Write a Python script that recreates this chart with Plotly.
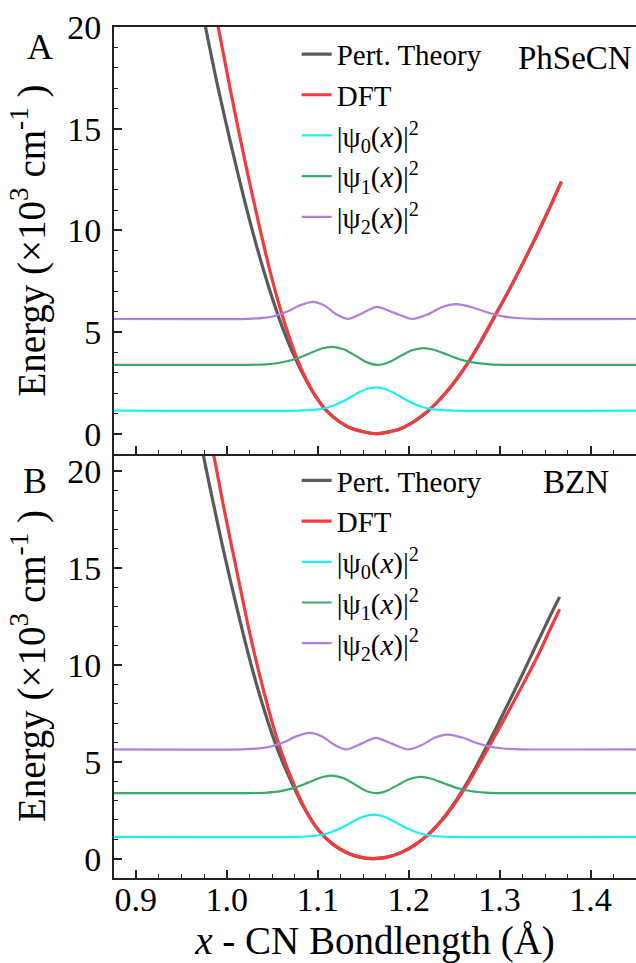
import plotly.graph_objects as go

# ---------------- data (bond length in Å, energy in 10^3 cm^-1) ----------------
# Panel A: PhSeCN potentials
a_pt_x = [0.974, 0.989, 1.004, 1.019, 1.034, 1.049, 1.064, 1.079, 1.094, 1.109,
          1.124, 1.139, 1.164, 1.189, 1.204, 1.219, 1.234, 1.249, 1.264, 1.279,
          1.294, 1.309, 1.324, 1.339, 1.354, 1.368]
a_pt_e = [20.58, 17.30, 14.34, 11.56, 9.04, 6.81, 4.90, 3.36, 2.10, 1.16,
          0.59, 0.225, 0.0, 0.21, 0.545, 1.03, 1.67, 2.46, 3.40, 4.50,
          5.72, 6.94, 8.24, 9.59, 11.01, 12.40]
a_dft_x = [0.989, 1.004, 1.019, 1.034, 1.049, 1.064, 1.079, 1.094, 1.109,
           1.124, 1.139, 1.164, 1.189, 1.204, 1.219, 1.234, 1.249, 1.264, 1.279,
           1.294, 1.309, 1.324, 1.339, 1.354, 1.368]
a_dft_e = [20.37, 16.90, 13.62, 10.56, 7.74, 5.40, 3.50, 2.11, 1.165,
           0.59, 0.225, 0.0, 0.21, 0.545, 1.03, 1.67, 2.46, 3.40, 4.50,
           5.72, 6.94, 8.24, 9.59, 11.01, 12.40]

# Panel A: probability densities, offset by level energy
a_psi0_x = [0.876, 1.078, 1.098, 1.113, 1.128, 1.143, 1.153, 1.164, 1.175,
            1.185, 1.200, 1.215, 1.230, 1.250, 1.45]
a_psi0_e = [1.13, 1.136, 1.18, 1.31, 1.59, 1.97, 2.185, 2.28, 2.185,
            1.97, 1.59, 1.31, 1.18, 1.136, 1.13]

a_psi1_x = [0.876, 1.022, 1.043, 1.058, 1.0736, 1.089, 1.1044, 1.116, 1.129, 1.1414,
            1.1537, 1.166, 1.1783, 1.1906, 1.203, 1.216, 1.2276, 1.243, 1.2584, 1.274,
            1.289, 1.31, 1.45]
a_psi1_e = [3.38, 3.384, 3.41, 3.49, 3.65, 3.91, 4.19, 4.27, 4.14, 3.84,
            3.52, 3.38, 3.51, 3.81, 4.09, 4.21, 4.13, 3.88, 3.63, 3.48,
            3.41, 3.384, 3.38]

a_psi2_x = [0.876, 1.0226, 1.0404, 1.0538, 1.0671, 1.0805, 1.0947, 1.1072, 1.1205,
            1.1335, 1.1494, 1.165, 1.1843, 1.2039, 1.22, 1.2365, 1.2519, 1.2695,
            1.286, 1.3025, 1.319, 1.341, 1.45]
a_psi2_e = [5.64, 5.65, 5.695, 5.80, 6.02, 6.31, 6.48, 6.31, 5.875,
            5.64, 5.94, 6.24, 5.94, 5.64, 5.845, 6.22, 6.37, 6.22,
            5.97, 5.78, 5.69, 5.65, 5.64]

# Panel B: BZN potentials
b_pt_x = [0.9665, 0.9815, 0.9965, 1.0115, 1.0265, 1.0415, 1.0565, 1.0715, 1.0865,
          1.1015, 1.1165, 1.1315, 1.1465, 1.1615, 1.1765, 1.1915, 1.2065, 1.2215,
          1.2365, 1.2515, 1.2665, 1.2815, 1.2965, 1.3115, 1.3265, 1.3415, 1.3565, 1.366]
b_pt_e = [22.6, 19.18, 15.90, 12.87, 10.06, 7.63, 5.56, 3.92, 2.50,
          1.44, 0.75, 0.32, 0.08, 0.0, 0.078, 0.31, 0.70, 1.24,
          2.00, 2.96, 4.10, 5.40, 6.78, 8.21, 9.66, 11.16, 12.62, 13.52]
b_dft_x = [0.9815, 0.9965, 1.0115, 1.0265, 1.0415, 1.0565, 1.0715, 1.0865,
           1.1015, 1.1165, 1.1315, 1.1465, 1.1615, 1.1765, 1.1915, 1.2065, 1.2215,
           1.2365, 1.2515, 1.2665, 1.2815, 1.2965, 1.3115, 1.3265, 1.3415, 1.3565, 1.366]
b_dft_e = [21.87, 18.19, 14.74, 11.39, 8.50, 6.01, 4.09, 2.53,
           1.44, 0.75, 0.32, 0.08, 0.0, 0.078, 0.31, 0.70, 1.24,
           1.97, 2.90, 3.99, 5.21, 6.47, 7.76, 9.07, 10.43, 11.94, 12.88]

# Panel B: probability densities, offset by level energy
b_psi0_x = [0.876, 1.0755, 1.0955, 1.1105, 1.1255, 1.1405, 1.1505, 1.1615, 1.1725,
            1.1825, 1.1975, 1.2125, 1.2275, 1.2475, 1.45]
b_psi0_e = [1.12, 1.126, 1.17, 1.30, 1.58, 1.96, 2.175, 2.27, 2.175,
            1.96, 1.58, 1.30, 1.17, 1.126, 1.12]

b_psi1_x = [0.876, 1.0243, 1.0443, 1.0593, 1.0743, 1.0893, 1.1043, 1.1153, 1.1283, 1.1403,
            1.1523, 1.1643, 1.1763, 1.1883, 1.2003, 1.2133, 1.2243, 1.2393, 1.2543, 1.2693,
            1.2843, 1.3043, 1.45]
b_psi1_e = [3.38, 3.385, 3.415, 3.49, 3.657, 3.926, 4.204, 4.29, 4.16, 3.847,
            3.521, 3.38, 3.51, 3.811, 4.101, 4.22, 4.14, 3.884, 3.635, 3.482,
            3.413, 3.384, 3.38]

b_psi2_x = [0.876, 1.0174, 1.0358, 1.0495, 1.0632, 1.077, 1.0916, 1.1045, 1.1182,
            1.1316, 1.148, 1.164, 1.1815, 1.1994, 1.214, 1.229, 1.243, 1.259,
            1.274, 1.289, 1.304, 1.324, 1.45]
b_psi2_e = [5.64, 5.649, 5.696, 5.808, 6.027, 6.328, 6.50, 6.325, 5.88,
            5.64, 5.94, 6.24, 5.94, 5.64, 5.856, 6.254, 6.41, 6.256,
            5.987, 5.79, 5.69, 5.648, 5.64]

names = ["Pert. Theory", "DFT",
         "|\u03c8<sub>0</sub>(<i>x</i>)|<sup>2</sup>",
         "|\u03c8<sub>1</sub>(<i>x</i>)|<sup>2</sup>",
         "|\u03c8<sub>2</sub>(<i>x</i>)|<sup>2</sup>"]
colors = ["#5a5a5a", "#f03c3c", "#1af0f2", "#3aaa68", "#b07de0"]
widths = [3.2, 3.2, 2.2, 2.2, 2.2]

FONT = "Liberation Serif"

fig = go.Figure()

panels = [
    ("x2", "y2", "legend", [(a_pt_x, a_pt_e), (a_dft_x, a_dft_e), (a_psi0_x, a_psi0_e),
                            (a_psi1_x, a_psi1_e), (a_psi2_x, a_psi2_e)]),
    ("x", "y", "legend2", [(b_pt_x, b_pt_e), (b_dft_x, b_dft_e), (b_psi0_x, b_psi0_e),
                           (b_psi1_x, b_psi1_e), (b_psi2_x, b_psi2_e)]),
]
for xa, ya, leg, series in panels:
    for (xs, es), name, col, w in zip(series, names, colors, widths):
        fig.add_trace(go.Scatter(
            x=xs, y=es, mode="lines", name=name, legend=leg,
            xaxis=xa, yaxis=ya,
            line=dict(color=col, width=w, shape="spline", smoothing=0.7),
        ))

axis_common = dict(
    showline=True, linecolor="#222", linewidth=2,
    ticks="inside", tickcolor="#222", tickwidth=1.6, ticklen=8,
    showgrid=False, zeroline=False,
    tickfont=dict(family=FONT, size=34, color="black"),
)
minor_x = dict(dtick=0.025, ticks="inside", ticklen=4, tickcolor="#222", tickwidth=1.4)
minor_y = dict(dtick=1, ticks="inside", ticklen=4, tickcolor="#222", tickwidth=1.4)

x_range = [0.876, 1.45]
y_title = dict(text="Energy (\u00d710<sup>3</sup> cm<sup>-1</sup> )",
               font=dict(family=FONT, size=39, color="black"), standoff=10)
legend_font = dict(family=FONT, size=29, color="black")


def label(text, x, y, size):
    return dict(text=text, x=x, y=y, xref="paper", yref="paper", showarrow=False,
                xanchor="center", yanchor="middle",
                font=dict(family=FONT, size=size, color="black"))


fig.update_layout(
    width=636, height=963,
    margin=dict(l=114, r=0, t=27, b=85),
    paper_bgcolor="white", plot_bgcolor="white",
    font=dict(family=FONT, color="black"),
    xaxis=dict(**axis_common, anchor="y", range=x_range, dtick=0.1, tick0=0.9,
               tickformat=".1f", ticklabelstandoff=-10, minor=minor_x,
               title=dict(text="<i>x</i> - CN Bondlength (\u00c5)",
                          font=dict(family=FONT, size=39, color="black"), standoff=12)),
    xaxis2=dict(**axis_common, anchor="y2", matches="x", range=x_range, dtick=0.1, tick0=0.9,
                showticklabels=False, mirror=True, minor=minor_x),
    yaxis=dict(**axis_common, domain=[0, 0.4982], range=[-1, 20.9], dtick=5, tick0=0,
               ticklabelstandoff=4, minor=minor_y, title=y_title),
    yaxis2=dict(**axis_common, domain=[0.4982, 1], range=[-1, 20], dtick=5, tick0=0,
                ticklabelstandoff=4, minor=minor_y, title=y_title),
    legend=dict(x=0.35, y=0.998, xanchor="left", yanchor="top",
                bgcolor="rgba(0,0,0,0)", font=legend_font),
    legend2=dict(x=0.35, y=0.497, xanchor="left", yanchor="top",
                 bgcolor="rgba(0,0,0,0)", font=legend_font),
    annotations=[
        label("A", -0.1418, 0.9765, 36),
        label("B", -0.1513, 0.4665, 36),
        label("PhSeCN", 0.883, 0.9636, 33),
        label("BZN", 0.885, 0.4653, 33),
    ],
)

fig.write_html("out.html")
